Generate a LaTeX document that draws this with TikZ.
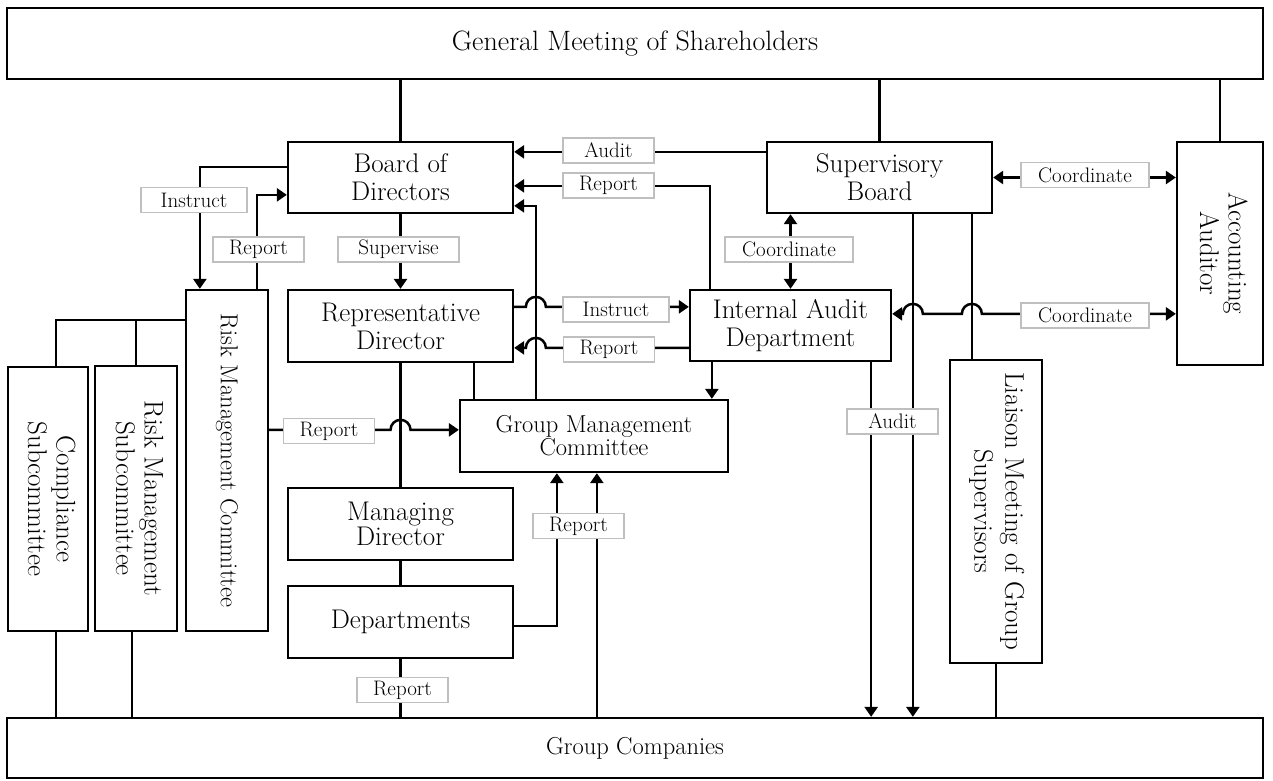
\documentclass[tikz,border=0pt]{standalone}
\usepackage{graphicx}
\usetikzlibrary{arrows.meta,calc}
\begin{document}
\begin{tikzpicture}[x=1pt,y=-1pt,
  box/.style={draw,line width=2.3pt,fill=white,inner sep=0pt,align=center,font=\fontsize{27}{28}\selectfont},
  lbl/.style={draw=black!25,line width=1.2pt,fill=white,minimum width=91pt,minimum height=25pt,inner sep=0pt,font=\fontsize{21}{22}\selectfont},
  ln/.style={line width=2.5pt},
  arr/.style={ln,-{Triangle[length=10pt,width=13pt]}},
  darr/.style={ln,{Triangle[length=10pt,width=13pt]}-{Triangle[length=10pt,width=13pt]}},
  vtxt/.style={font=\fontsize{27}{28.5}\selectfont}
]
\useasboundingbox (0,0) rectangle (1273,780);
% boxes
\node[box,minimum width=1256pt,minimum height=71pt,font=\fontsize{28}{30}\selectfont] (gm) at (635,43.5) {General Meeting of Shareholders};
\node[box,minimum width=1256pt,minimum height=60pt,font=\fontsize{24.5}{26}\selectfont] (gc) at (635,748) {Group Companies};
\node[box,minimum width=225pt,minimum height=71pt] (board) at (400.5,177.5) {Board of\\Directors};
\node[box,minimum width=225pt,minimum height=71pt] (sup) at (879.5,177.5) {Supervisory\\Board};
\node[box,minimum width=86pt,minimum height=223pt,vtxt] (acc) at (1220,253.5) {\rotatebox{-90}{\begin{tabular}{@{}c@{}}Accounting\\Auditor\end{tabular}}};
\node[box,minimum width=225pt,minimum height=72pt] (rep) at (400.5,326) {Representative\\Director};
\node[box,minimum width=201pt,minimum height=71pt] (iad) at (790.5,325.5) {Internal Audit\\Department};
\node[box,minimum width=268pt,minimum height=72pt,font=\fontsize{24.5}{23}\selectfont] (gmc) at (594,436) {Group Management\\Committee};
\node[box,minimum width=225pt,minimum height=72pt,font=\fontsize{27}{25}\selectfont] (md) at (400.5,524) {Managing\\Director};
\node[box,minimum width=225pt,minimum height=72pt] (dept) at (400.5,622) {Departments};
\node[box,minimum width=82pt,minimum height=341pt,font=\fontsize{24.5}{26}\selectfont] (rmc) at (227,460.5) {\rotatebox{-90}{Risk Management Committee}};
\node[box,minimum width=82pt,minimum height=265pt,vtxt] (rms) at (136,498.5) {\rotatebox{-90}{\begin{tabular}{@{}c@{}}Risk Management\\Subcommittee\end{tabular}}};
\node[box,minimum width=80pt,minimum height=264pt,vtxt] (comp) at (48,499) {\rotatebox{-90}{\begin{tabular}{@{}c@{}}Compliance\\Subcommittee\end{tabular}}};
\node[box,minimum width=92pt,minimum height=303pt,font=\fontsize{27}{31}\selectfont] (liaison) at (996,511.5) {\rotatebox{-90}{\begin{tabular}{@{}c@{}}Liaison Meeting of Group\\Supervisors\end{tabular}}};
% helper coordinates
\coordinate (vx) at ($(gmc.north west)+(77,0)$);
\coordinate (yInst) at ($(rep.north east)+(0,18)$);
\coordinate (yRep) at ($(rep.north east)+(0,59)$);
\coordinate (yC2) at ($(acc.north west)+(0,173)$);
\coordinate (sx1) at ($(sup.south west)+(147,0)$);
\coordinate (sx2) at ($(sup.south west)+(206,0)$);
\coordinate (yR3) at ($(gmc.north west)+(0,31)$);
\coordinate (rx) at ($(rep.south west)+(187,0)$);
\coordinate (ix) at ($(iad.south west)+(23,0)$);
\coordinate (ix2) at ($(iad.south east)+(-21,0)$);
\coordinate (ry) at ($(rmc.north west)+(0,31)$);
\coordinate (cx) at ($(comp.north west)+(49,0)$);
\coordinate (rsx) at ($(rms.south west)+(38,0)$);
\coordinate (dy) at ($(dept.north east)+(0,41)$);
\coordinate (dx) at ($(gmc.south west)+(98,0)$);
\coordinate (gx) at ($(gmc.south west)+(138,0)$);
\coordinate (by1) at ($(board.north west)+(0,26)$);
\coordinate (rx1) at ($(rmc.north west)+(15,0)$);
\coordinate (rx2) at ($(rmc.north west)+(72,0)$);
\coordinate (by2) at ($(board.north west)+(0,54)$);
\coordinate (ay) at ($(sup.north west)+(0,11)$);
\coordinate (ix3) at ($(iad.north west)+(21,0)$);
\coordinate (by3) at ($(board.north east)+(0,45)$);
\coordinate (by4) at ($(board.north east)+(0,65)$);
% connectors
\draw[ln] (board.north |- gm.south) -- (board.north);
\draw[ln] (sup.north |- gm.south) -- (sup.north);
\draw[ln] (acc.north |- gm.south) -- (acc.north);
\draw[arr] (ay) -- (ay -| board.east);
\draw[arr] (ix3) |- (by3);
\draw[arr] (vx) |- (by4);
\draw[arr] (board.south) -- (rep.north);
\draw[arr] (by1) -| (rx1);
\draw[arr] (rx2) |- (by2);
\draw[darr] (iad.north |- sup.south) -- (iad.north);
\draw[darr] (sup.east) -- (sup.east -| acc.west);
\draw[darr] (yC2 -| iad.east) -- ($(yC2 -| sx1)+(-10,0)$) arc[start angle=180,end angle=0,radius=10pt] -- ($(yC2 -| sx2)+(-10,0)$) arc[start angle=180,end angle=0,radius=10pt] -- (yC2);
\draw[arr] (yInst) -- ($(yInst -| vx)+(-10,0)$) arc[start angle=180,end angle=0,radius=10pt] -- (yInst -| iad.west);
\draw[arr] (yRep -| iad.west) -- ($(yRep -| vx)+(10,0)$) arc[start angle=0,end angle=180,radius=10pt] -- (yRep);
\draw[ln] (rep.south) -- (md.north);
\draw[ln] (rx) -- (rx |- gmc.north);
\draw[arr] (ix) -- (ix |- gmc.north);
\draw[arr] (ix2) -- (ix2 |- gc.north);
\draw[arr] (sx1) -- (sx1 |- gc.north);
\draw[ln] (sx2) -- (sx2 |- liaison.north);
\draw[ln] (liaison.south) -- (liaison.south |- gc.north);
\draw[ln] (ry) -| (cx |- comp.north);
\draw[ln] (ry -| rms.north) -- (rms.north);
\draw[ln] (cx |- comp.south) -- (cx |- gc.north);
\draw[ln] (rsx) -- (rsx |- gc.north);
\draw[arr] (yR3 -| rmc.east) -- ($(yR3 -| rep.south)+(-10,0)$) arc[start angle=180,end angle=0,radius=10pt] -- (yR3 -| gmc.west);
\draw[ln] (md.south) -- (dept.north);
\draw[arr] (dy) -| (dx);
\draw[arr] (gx |- gc.north) -- (gx);
\draw[ln] (dept.south) -- (dept.south |- gc.north);
% labels
\node[lbl] (l1) at (608.5,150.5) {Audit};
\node[lbl] (l2) at (608.5,185.5) {Report};
\node[lbl,minimum width=106pt] (l3) at (194,200) {Instruct};
\node[lbl] (l4) at (258.5,249.5) {Report};
\node[lbl,minimum width=121pt] (l5) at (398.5,249.5) {Supervise};
\node[lbl,minimum width=128pt] (l6) at (789,249.5) {Coordinate};
\node[lbl,minimum width=128pt] (l7) at (1085,175) {Coordinate};
\node[lbl,minimum width=106pt] (l8) at (616,309.5) {Instruct};
\node[lbl] (l9) at (609,349.5) {Report};
\node[lbl,minimum width=128pt] (l10) at (1085,315.5) {Coordinate};
\node[lbl] (l11) at (329,431) {Report};
\node[lbl] (l12) at (892.5,421.5) {Audit};
\node[lbl] (l13) at (578.5,526) {Report};
\node[lbl] (l14) at (402.5,690) {Report};
\end{tikzpicture}
\end{document}
